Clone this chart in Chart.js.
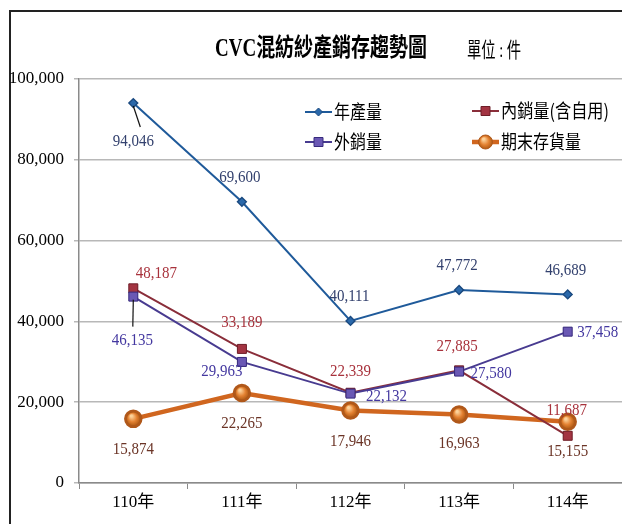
<!DOCTYPE html>
<html>
<head>
<meta charset="utf-8">
<script src="https://cdn.jsdelivr.net/npm/chart.js@4"></script>
<style>
html, body { margin: 0; padding: 0; background: #fff; overflow: hidden; }
canvas { display: block; }
</style>
</head>
<body>
<canvas id="lineChart" width="622" height="524"></canvas>
<script>
// data
const years = ['110年', '111年', '112年', '113年', '114年'];
const production = [94046, 69600, 40111, 47772, 46689];      // 年產量
const domesticSales = [48187, 33189, 22339, 27885, 11687];   // 內銷量(含自用)
const exportSales = [46135, 29963, 22132, 27580, 37458];     // 外銷量
const endInventory = [15874, 22265, 17946, 16963, 15155];    // 期末存貨量
const yTickStep = 20000;
const yMax = 100000;

const serif = '"Liberation Serif", "Noto Sans CJK TC", serif';
const cjk = '"Noto Sans CJK TC", "Liberation Serif", sans-serif';

// label placement relative to each point: [dx, dy, leader line?]
const prodLabelPos = [[0, 38, true], [-2, -24], [-1, -24], [-2, -24], [-2, -24]];
const domLabelPos = [[23, -15], [0, -26], [0, -21], [-2, -24], [-1, -25]];
const expLabelPos = [[-1, 44, true], [-20, 10], [36, 3], [32, 2], [30, 1]];
const invLabelPos = [[0, 31], [0, 30], [0, 31], [0, 29], [0, 30]];

function fmt(v) {
    return v.toLocaleString('en-US');
}

// frame + title
const framePlugin = {
    id: 'frame',
    beforeDraw(chart) {
        const c = chart.ctx;
        c.save();
        c.fillStyle = '#fff';
        c.fillRect(0, 0, chart.width, chart.height);
        c.fillStyle = '#222';
        c.fillRect(9, 10, 2, chart.height - 10);
        c.fillRect(9, 10, chart.width - 9, 2);
        c.restore();
    },
    afterDraw(chart) {
        const c = chart.ctx;
        c.save();
        c.fillStyle = '#000';
        c.textAlign = 'center';
        c.textBaseline = 'middle';
        c.font = 'bold 25px ' + serif;
        c.fillText('CVC混紡紗產銷存趨勢圖', 321, 50, 212);
        c.font = '21px ' + serif;
        c.fillText('單位 : 件', 494, 51, 54);
        c.restore();
    }
};

// legend drawn inside the plot, two columns
const legendPlugin = {
    id: 'insideLegend',
    afterDraw(chart) {
        const c = chart.ctx;
        const spots = [[305, 112], [472, 111], [305, 142], [472, 142]];
        c.save();
        chart.data.datasets.forEach((ds, i) => {
            const [x, y] = spots[i];
            c.strokeStyle = ds.borderColor;
            c.lineWidth = ds.borderWidth;
            c.beginPath();
            c.moveTo(x, y);
            c.lineTo(x + 27, y);
            c.stroke();
            drawMarker(c, ds, x + 13.5, y);
            c.fillStyle = '#000';
            c.font = '19px ' + cjk;
            c.textAlign = 'left';
            c.textBaseline = 'middle';
            c.fillText(ds.label, x + 29, y, ds.label.length > 5 ? 108 : ds.label.length * 16);
        });
        c.restore();
    }
};

function drawMarker(c, ds, x, y) {
    const r = ds.pointRadius;
    c.save();
    c.lineWidth = 1;
    c.fillStyle = ds.pointBackgroundColor;
    c.strokeStyle = ds.pointBorderColor;
    c.beginPath();
    if (ds.pointStyle === 'rectRot') {
        c.moveTo(x, y - r); c.lineTo(x + r, y); c.lineTo(x, y + r); c.lineTo(x - r, y);
        c.closePath();
    } else if (ds.pointStyle === 'rect') {
        c.rect(x - r, y - r, r * 2, r * 2);
    } else {
        const g = c.createRadialGradient(x - 2, y - 3, 1, x, y, r);
        g.addColorStop(0, '#FCD29A');
        g.addColorStop(0.55, '#E48232');
        g.addColorStop(1, '#B05A14');
        c.fillStyle = g;
        c.arc(x, y, r, 0, Math.PI * 2);
    }
    c.fill();
    c.stroke();
    c.restore();
}

// shaded markers and value labels
const labelPlugin = {
    id: 'valueLabels',
    afterDatasetsDraw(chart) {
        const c = chart.ctx;
        c.save();
        chart.data.datasets.forEach((ds, i) => {
            const meta = chart.getDatasetMeta(i);
            meta.data.forEach(pt => drawMarker(c, ds, pt.x, pt.y));
        });
        c.font = '17px ' + serif;
        c.textAlign = 'center';
        c.textBaseline = 'middle';
        chart.data.datasets.forEach((ds, i) => {
            const meta = chart.getDatasetMeta(i);
            meta.data.forEach((pt, j) => {
                const [dx, dy, lead] = ds.labelPos[j];
                if (lead) {
                    c.strokeStyle = '#111';
                    c.lineWidth = 1.2;
                    c.beginPath();
                    c.moveTo(pt.x, pt.y + 3);
                    c.lineTo(pt.x + dx * 0.5 + (i === 0 ? 7 : 0), pt.y + dy - 14);
                    c.stroke();
                }
                const txt = fmt(ds.data[j]);
                c.fillStyle = ds.labelColor;
                // the source uses a narrow serif, squeeze a little
                c.fillText(txt, pt.x + dx, pt.y + dy, c.measureText(txt).width * 0.88);
            });
        });
        c.restore();
    }
};

const ctx = document.getElementById('lineChart').getContext('2d');

new Chart(ctx, {
    type: 'line',
    data: {
        labels: years,
        datasets: [
            {
                label: '年產量',
                data: production,
                borderColor: '#1F5A9A',
                borderWidth: 2,
                pointStyle: 'rectRot',
                pointRadius: 4,
                pointBackgroundColor: '#2A68AA',
                pointBorderColor: '#1B4A80',
                labelColor: '#33416E',
                labelPos: prodLabelPos,
                order: 1
            },
            {
                label: '內銷量(含自用)',
                data: domesticSales,
                borderColor: '#8A2E3A',
                borderWidth: 2,
                pointStyle: 'rect',
                pointRadius: 4.5,
                pointBackgroundColor: '#A33442',
                pointBorderColor: '#6E1E28',
                labelColor: '#A8323C',
                labelPos: domLabelPos,
                order: 3
            },
            {
                label: '外銷量',
                data: exportSales,
                borderColor: '#483B90',
                borderWidth: 2,
                pointStyle: 'rect',
                pointRadius: 4.5,
                pointBackgroundColor: '#6A58B4',
                pointBorderColor: '#372A7C',
                labelColor: '#4438A0',
                labelPos: expLabelPos,
                order: 2
            },
            {
                label: '期末存貨量',
                data: endInventory,
                borderColor: '#D0661F',
                borderWidth: 4.5,
                pointStyle: 'circle',
                pointRadius: 7,
                pointBackgroundColor: '#E07E2C',
                pointBorderColor: '#B0581A',
                labelColor: '#6B3426',
                labelPos: invLabelPos,
                order: 4
            }
        ]
    },
    options: {
        responsive: false,
        animation: false,
        events: [],
        layout: {
            autoPadding: false,
            padding: { top: 79, left: 0, right: 0, bottom: 0 }
        },
        elements: {
            line: { tension: 0 },
            point: { radius: 0, hoverRadius: 0 }
        },
        datasets: {
            line: { pointRadius: 0 }
        },
        plugins: {
            legend: { display: false },
            tooltip: { enabled: false },
            title: { display: false }
        },
        scales: {
            x: {
                offset: true,
                afterFit: scale => {
                    scale.height = 41;
                    scale.paddingLeft = 0;
                    scale.paddingRight = 0;
                },
                grid: {
                    offset: true,
                    drawOnChartArea: false,
                    drawTicks: true,
                    tickLength: 6,
                    color: '#8A8A8A'
                },
                border: { color: '#8A8A8A', width: 1.5 },
                ticks: {
                    color: '#000',
                    padding: 3,
                    font: { family: serif, size: 17 }
                }
            },
            y: {
                min: 0,
                max: yMax,
                afterFit: scale => { scale.width = 79; },
                grid: {
                    color: '#B8B8B8',
                    lineWidth: 1.5,
                    tickLength: 5
                },
                border: { color: '#8A8A8A', width: 1.5 },
                ticks: {
                    stepSize: yTickStep,
                    color: '#000',
                    padding: 10,
                    font: { family: serif, size: 17 },
                    callback: v => fmt(v)
                }
            }
        }
    },
    plugins: [framePlugin, labelPlugin, legendPlugin]
});
</script>
</body>
</html>
